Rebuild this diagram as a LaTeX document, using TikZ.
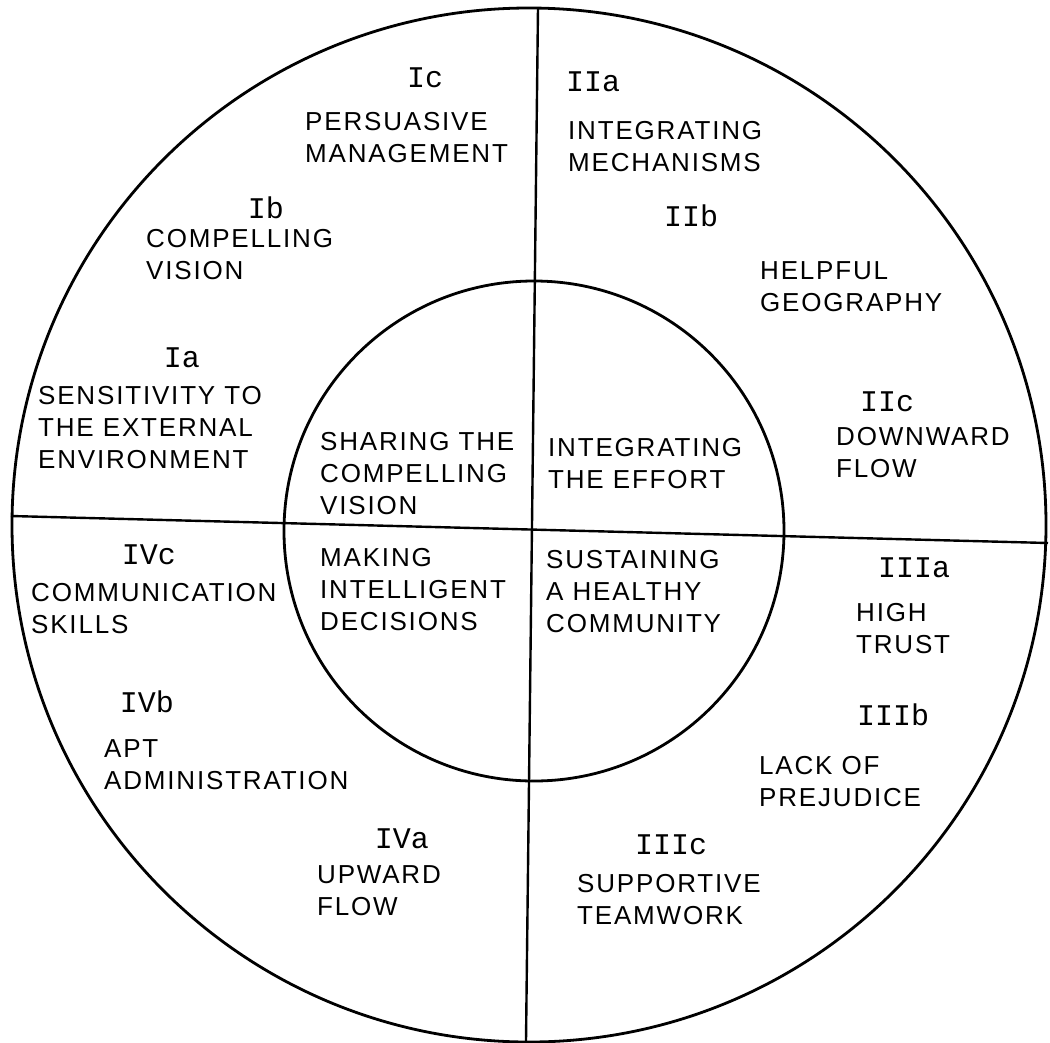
\documentclass[tikz,border=0pt]{standalone}
\usepackage{fontspec}
\setmainfont{Liberation Sans}
\newfontfamily\capsfont[LetterSpace=7]{Liberation Sans}
\newfontfamily\lblfont{Liberation Mono}
\begin{document}
\begin{tikzpicture}[x=1pt,y=-1pt,
  ring/.style={line width=2.8pt},
  divider/.style={line width=2.4pt},
  txt/.style={anchor=west, align=left, inner sep=0pt,
    font=\capsfont\fontsize{26}{32}\selectfont},
  code/.style={inner sep=0pt, font=\lblfont\fontsize{30}{30}\selectfont}]
\useasboundingbox (0,0) rectangle (1050,1042);
\fill[white] (0,0) rectangle (1050,1042);

% rings
\node[ring, draw, circle, minimum size=1034pt, inner sep=0pt] (outer) at (529,525) {};
\node[ring, draw, circle, minimum size=500pt, inner sep=0pt] (inner) at (534,531) {};

% quadrant dividers
\coordinate (vtop) at (538,8);
\coordinate (vbot) at (526,1041);
\coordinate (hleft) at (11,516);
\coordinate (hright) at (1048,543);
\draw[divider] (vtop) -- (vbot);
\draw[divider] (hleft) -- (hright);

% core functions
\node[txt] (share) at (320,474) {SHARING THE\\COMPELLING\\VISION};
\node[txt] (integ) at (548,464) {INTEGRATING\\THE EFFORT};
\node[txt] (decide) at (320,590) {MAKING\\INTELLIGENT\\DECISIONS};
\node[txt] (sustain) at (546,592) {SUSTAINING\\A HEALTHY\\COMMUNITY};

% quadrant I
\node[code] (Ic) at (425,78) {Ic};
\node[txt] (persuasive) at (305,137.5) {PERSUASIVE\\MANAGEMENT};
\node[code] (Ib) at (266,208) {Ib};
\node[txt] (vision) at (146,254.5) {COMPELLING\\VISION};
\node[code] (Ia) at (182,358) {Ia};
\node[txt] (sensitivity) at (38,428) {SENSITIVITY TO\\THE EXTERNAL\\ENVIRONMENT};

% quadrant II
\node[code] (IIa) at (593,82) {IIa};
\node[txt] (mechanisms) at (568,146.5) {INTEGRATING\\MECHANISMS};
\node[code] (IIb) at (691,216) {IIb};
\node[txt] (geography) at (760,287) {HELPFUL\\GEOGRAPHY};
\node[code] (IIc) at (887,402) {IIc};
\node[txt] (downward) at (836,453) {DOWNWARD\\FLOW};

% quadrant III
\node[code] (IIIa) at (914,568) {IIIa};
\node[txt] (trust) at (856,629) {HIGH\\TRUST};
\node[code] (IIIb) at (893,715) {IIIb};
\node[txt] (prejudice) at (759,782) {LACK OF\\PREJUDICE};
\node[code] (IIIc) at (671,845) {IIIc};
\node[txt] (teamwork) at (577,900) {SUPPORTIVE\\TEAMWORK};

% quadrant IV
\node[code] (IVc) at (149,555) {IVc};
\node[txt] (communication) at (31,608.5) {COMMUNICATION\\SKILLS};
\node[code] (IVb) at (147,702) {IVb};
\node[txt] (admin) at (104,765) {APT\\ADMINISTRATION};
\node[code] (IVa) at (402,839) {IVa};
\node[txt] (upward) at (317,890.5) {UPWARD\\FLOW};
\end{tikzpicture}
\end{document}
